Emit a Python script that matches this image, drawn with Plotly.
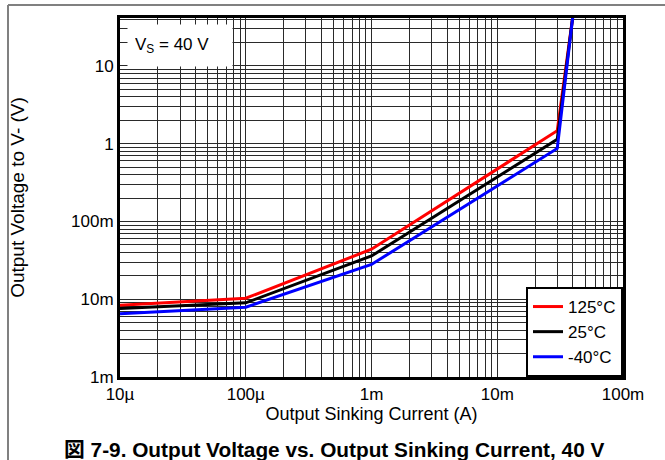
import numpy as np
import plotly.graph_objects as go

# ---- data ----
current_A = [1e-5, 1e-4, 1e-3, 0.03, 0.04]
v_125C = [8.4e-3, 10.3e-3, 44e-3, 1.47, 45]
v_25C = [7.6e-3, 9.0e-3, 36e-3, 1.14, 45]
v_m40C = [6.5e-3, 7.9e-3, 28e-3, 0.87, 45]

x_tickvals = [1e-5, 1e-4, 1e-3, 1e-2, 1e-1]
x_ticktext = ["10µ", "100µ", "1m", "10m", "100m"]
y_tickvals = [1e-3, 1e-2, 1e-1, 1, 10]
y_ticktext = ["1m", "10m", "100m", "1", "10"]

series_names = ["125°C", "25°C", "-40°C"]
series_colors = ["#FF0000", "#000000", "#0000FF"]

# ---- layout geometry (pixels) ----
W, H = 665, 460
L, R, T, B = 120, 42, 18, 83
PW, PH = W - L - R, H - T - B


def px(xp):
    return (xp - L) / PW


def py(yp):
    return 1 - (yp - T) / PH


x_minor = [m * 10.0 ** e for e in range(-5, -1) for m in range(2, 10)]
y_minor = [m * 10.0 ** e for e in range(-3, 2) for m in range(2, 10)]

font = "Liberation Sans, Arial, Noto Sans CJK JP, sans-serif"
grid_col = "#2a2a2a"

fig = go.Figure()
for name, vals, col in zip(series_names, [v_125C, v_25C, v_m40C], series_colors):
    fig.add_trace(go.Scatter(x=current_A, y=vals, mode="lines", name=name,
                             line=dict(color=col, width=3)))

axis_common = dict(
    type="log", showgrid=True, gridcolor=grid_col, gridwidth=1,
    showline=True, linecolor="black", linewidth=3, mirror=True,
    ticks="", zeroline=False, automargin=False,
    tickfont=dict(size=17, color="black", family=font),
)

fig.update_xaxes(
    range=[-5, -1], tickmode="array", tickvals=x_tickvals, ticktext=x_ticktext,
    minor=dict(tickmode="array", tickvals=x_minor, showgrid=True,
               gridcolor=grid_col, gridwidth=1, ticks=""),
    title=dict(text="Output Sinking Current (A)", font=dict(size=18, family=font, color="black"),
               standoff=4),
    **axis_common,
)
fig.update_yaxes(
    range=[-3, np.log10(41.4)], tickmode="array", tickvals=y_tickvals, ticktext=y_ticktext,
    minor=dict(tickmode="array", tickvals=y_minor, showgrid=True,
               gridcolor=grid_col, gridwidth=1, ticks=""),
    title=dict(text="Output Voltage to V- (V)", font=dict(size=19, family=font, color="black"),
               standoff=42),
    **axis_common,
)

fig.update_layout(
    template="none",
    width=W, height=H,
    margin=dict(l=L, r=R, t=T, b=B, pad=0, autoexpand=False),
    paper_bgcolor="white", plot_bgcolor="white",
    font=dict(family=font, color="black"),
    legend=dict(x=1, y=0, xanchor="right", yanchor="bottom",
                bgcolor="white", bordercolor="black", borderwidth=2,
                font=dict(size=17, family=font, color="black"),
                itemwidth=30, tracegroupgap=0),
    showlegend=True,
)

fig.add_annotation(
    xref="paper", yref="paper", x=px(127), y=py(24), xanchor="left", yanchor="top",
    text="V<sub>S</sub> = 40 V", showarrow=False, bgcolor="white",
    width=90, height=27, borderpad=7, align="left",
    font=dict(size=17, family=font, color="black"),
)

fig.add_annotation(
    xref="paper", yref="paper", x=px(334), y=py(449), xanchor="center", yanchor="middle",
    text="<b>図 7-9. Output Voltage vs. Output Sinking Current, 40 V</b>",
    showarrow=False, font=dict(size=20.8, family=font, color="black"),
)

# outer frame lines (top and left)
fig.add_shape(type="line", xref="paper", yref="paper", x0=px(8), x1=px(668), y0=py(5), y1=py(5),
              line=dict(color="#808080", width=2))
fig.add_shape(type="line", xref="paper", yref="paper", x0=px(8), x1=px(8), y0=py(5), y1=py(463),
              line=dict(color="#808080", width=2))

fig.write_html("out.html", config={"displayModeBar": False},
               post_script="document.body.style.margin='0';")
